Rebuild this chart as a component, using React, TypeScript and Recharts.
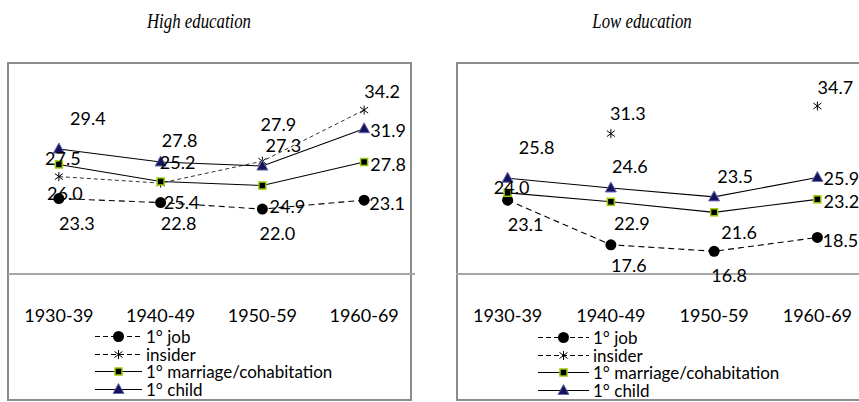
import React from 'react'
import { LineChart, Line, XAxis, YAxis, Legend, LabelList } from 'recharts'

// cohorts on the category axis
const cohorts = ['1930-39', '1940-49', '1950-59', '1960-69']

// High education, median age at each event
const highJob = [23.3, 22.8, 22.0, 23.1]
const highInsider = [26.0, 25.2, 27.9, 34.2]
const highMarriage = [27.5, 25.4, 24.9, 27.8]
const highChild = [29.4, 27.8, 27.3, 31.9]

// Low education (insider missing for two cohorts)
const lowJob = [23.1, 17.6, 16.8, 18.5]
const lowInsider = [null, 31.3, null, 34.7]
const lowMarriage = [24.0, 22.9, 21.6, 23.2]
const lowChild = [25.8, 24.6, 23.5, 25.9]

const FONT = 'Lato, "Open Sans", sans-serif'
const FRAME = '#8c8c8c'

type MarkerKind = 'circle' | 'star' | 'square' | 'triangle'

interface SeriesStyle {
  key: string
  name: string
  marker: MarkerKind
  dash?: string
  strokeWidth: number
  // label centre offset from the point, per cohort (Excel labels were moved by hand)
  labelOffset: [number, number][]
}

const SERIES: SeriesStyle[] = [
  {
    key: 'job',
    name: '1° job',
    marker: 'circle',
    dash: '6 4',
    strokeWidth: 1.1,
    labelOffset: [[18, 24], [18, 20], [15, 24], [23, 3]],
  },
  {
    key: 'insider',
    name: 'insider',
    marker: 'star',
    dash: '4 3',
    strokeWidth: 0.8,
    labelOffset: [[6, 16], [17, -21], [16, -37], [18, -19]],
  },
  {
    key: 'marriage',
    name: '1° marriage/cohabitation',
    marker: 'square',
    strokeWidth: 1.1,
    labelOffset: [[4, -6], [21, 21], [25, 20], [24, 2]],
  },
  {
    key: 'child',
    name: '1° child',
    marker: 'triangle',
    strokeWidth: 1.1,
    labelOffset: [[29, -31], [19, -22], [21, -21], [24, 1]],
  },
]

const buildRows = (
  job: (number | null)[],
  insider: (number | null)[],
  marriage: (number | null)[],
  child: (number | null)[]
) =>
  cohorts.map((cohort, i) => ({
    cohort,
    job: job[i],
    insider: insider[i],
    marriage: marriage[i],
    child: child[i],
  }))

const highData = buildRows(highJob, highInsider, highMarriage, highChild)
const lowData = buildRows(lowJob, lowInsider, lowMarriage, lowChild)

function Marker({ kind, cx, cy }: { kind: MarkerKind; cx: number; cy: number }) {
  switch (kind) {
    case 'circle':
      return <circle cx={cx} cy={cy} r={5.5} fill="#000" />
    case 'star':
      return (
        <g stroke="#000" strokeWidth={1}>
          <line x1={cx} y1={cy - 4.5} x2={cx} y2={cy + 4.5} />
          <line x1={cx - 4} y1={cy - 3} x2={cx + 4} y2={cy + 3} />
          <line x1={cx - 4} y1={cy + 3} x2={cx + 4} y2={cy - 3} />
        </g>
      )
    case 'square':
      return (
        <rect
          x={cx - 3.5}
          y={cy - 3.5}
          width={7}
          height={7}
          fill="#000"
          stroke="#99cc00"
          strokeWidth={1.5}
        />
      )
    default:
      return (
        <polygon
          points={`${cx},${cy - 6} ${cx + 5.5},${cy + 4} ${cx - 5.5},${cy + 4}`}
          fill="#14145a"
          stroke="#6a6ab0"
          strokeWidth={1}
        />
      )
  }
}

const makeDot = (kind: MarkerKind) => (p: any) => {
  if (p.cy == null || p.value == null) return <g key={`d-${p.index}`} />
  return (
    <g key={`d-${p.index}`}>
      <Marker kind={kind} cx={p.cx} cy={p.cy} />
    </g>
  )
}

const makeLabel = (offsets: [number, number][]) => (p: any) => {
  const value = p.value
  if (value == null || value === '') return null
  const x = p.x ?? p.viewBox?.x
  const y = p.y ?? p.viewBox?.y
  if (x == null || y == null) return null
  const [dx, dy] = offsets[p.index] ?? [0, -15]
  return (
    <text
      x={x + dx}
      y={y + dy}
      textAnchor="middle"
      dominantBaseline="central"
      fontFamily={FONT}
      fontSize={18}
      fill="#000"
    >
      {Number(value).toFixed(1)}
    </text>
  )
}

const CohortTick = (p: any) => (
  <text
    x={p.x}
    y={p.y + 41}
    textAnchor="middle"
    dominantBaseline="central"
    fontFamily={FONT}
    fontSize={18}
    fill="#000"
  >
    {p.payload.value}
  </text>
)

const LegendRows = ({ iconWidth }: { iconWidth: number }) => (
  <div style={{ fontFamily: FONT, fontSize: 17, color: '#000' }}>
    {SERIES.map((s) => (
      <div key={s.key} style={{ display: 'flex', alignItems: 'center', height: 17.5 }}>
        <svg width={iconWidth} height={17} style={{ overflow: 'visible' }}>
          <line
            x1={0}
            x2={iconWidth}
            y1={8.5}
            y2={8.5}
            stroke="#000"
            strokeWidth={1}
            strokeDasharray={s.dash ? '5 3' : undefined}
          />
          <Marker kind={s.marker} cx={iconWidth / 2} cy={8.5} />
        </svg>
        <span style={{ marginLeft: 4, lineHeight: '17px' }}>{s.name}</span>
      </div>
    ))}
  </div>
)

interface PanelProps {
  data: Record<string, unknown>[]
  left: number
  width: number
  plotLeft: number
  plotRight: number
  legendLeft: number
  legendTop: number
  iconWidth: number
}

function Panel({ data, left, width, plotLeft, plotRight, legendLeft, legendTop, iconWidth }: PanelProps) {
  const plotWidth = plotRight - plotLeft
  const pad = plotWidth / 8
  return (
    <div style={{ position: 'absolute', left, top: 0 }}>
      <LineChart
        width={width}
        height={402}
        data={data}
        margin={{ top: 63, right: width - plotRight, left: plotLeft, bottom: 0 }}
      >
        <XAxis
          dataKey="cohort"
          height={128}
          padding={{ left: pad, right: pad }}
          axisLine={{ stroke: '#a6a6a6', strokeWidth: 2 }}
          tickLine={false}
          tickSize={0}
          tickMargin={0}
          interval={0}
          tick={CohortTick}
        />
        <YAxis hide domain={[14, 40]} allowDataOverflow />
        <Legend
          layout="vertical"
          align="center"
          verticalAlign="middle"
          content={() => <LegendRows iconWidth={iconWidth} />}
          wrapperStyle={{ left: legendLeft, top: legendTop, width: 300, height: 72 }}
        />
        {/* value labels sit underneath the lines and markers */}
        {SERIES.map((s) => (
          <Line
            key={`lab-${s.key}`}
            dataKey={s.key}
            stroke="none"
            dot={false}
            activeDot={false}
            legendType="none"
            isAnimationActive={false}
          >
            <LabelList dataKey={s.key} content={makeLabel(s.labelOffset)} />
          </Line>
        ))}
        {SERIES.map((s) => (
          <Line
            key={s.key}
            type="linear"
            dataKey={s.key}
            name={s.name}
            stroke="#000"
            strokeWidth={s.strokeWidth}
            strokeDasharray={s.dash}
            dot={makeDot(s.marker)}
            activeDot={false}
            isAnimationActive={false}
          />
        ))}
      </LineChart>
    </div>
  )
}

const titleStyle: React.CSSProperties = {
  position: 'absolute',
  top: 9,
  textAlign: 'center',
  fontFamily: '"Liberation Serif", serif',
  fontStyle: 'italic',
  fontSize: 21,
  transform: 'scaleX(0.8)',
}

export default function App() {
  return (
    <div
      style={{
        position: 'absolute',
        left: 0,
        top: 0,
        width: 859,
        height: 402,
        overflow: 'hidden',
        background: '#fff',
      }}
    >
      <div style={{ ...titleStyle, left: 0, width: 398 }}>High education</div>
      <div style={{ ...titleStyle, left: 442, width: 400 }}>Low education</div>
      {/* chart area frames */}
      <div
        style={{
          position: 'absolute',
          left: 7,
          top: 62,
          width: 405,
          height: 339,
          border: `2px solid ${FRAME}`,
          boxSizing: 'border-box',
        }}
      />
      <div
        style={{
          position: 'absolute',
          left: 456,
          top: 62,
          width: 440,
          height: 339,
          border: `2px solid ${FRAME}`,
          boxSizing: 'border-box',
        }}
      />
      <Panel
        data={highData}
        left={0}
        width={430}
        plotLeft={8}
        plotRight={415}
        legendLeft={95}
        legendTop={328}
        iconWidth={47}
      />
      <Panel
        data={lowData}
        left={430}
        width={450}
        plotLeft={26}
        plotRight={439}
        legendLeft={108}
        legendTop={329}
        iconWidth={51}
      />
    </div>
  )
}
